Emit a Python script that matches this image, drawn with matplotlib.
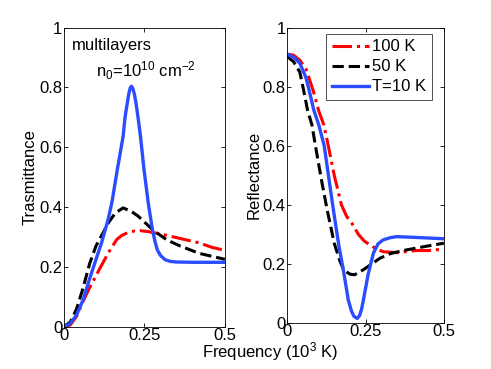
import numpy as np
import matplotlib
matplotlib.use("Agg")
import matplotlib.pyplot as plt

plt.rcParams['font.family'] = ['Liberation Sans', 'DejaVu Sans']
plt.rcParams['mathtext.fontset'] = 'custom'
plt.rcParams['mathtext.rm'] = 'Liberation Sans'
plt.rcParams['mathtext.it'] = 'Liberation Sans'

# Transmittance curves
t_blue_x = [0, 0.02, 0.04, 0.06, 0.08, 0.10, 0.117, 0.138, 0.15, 0.166, 0.184, 0.19, 0.197, 0.202,
            0.206, 0.210, 0.214, 0.219, 0.224, 0.231, 0.238, 0.249, 0.262, 0.275, 0.283, 0.29,
            0.30, 0.314, 0.33, 0.35, 0.40, 0.5]
t_blue_y = [0, 0.01, 0.04, 0.09, 0.16, 0.225, 0.28, 0.36, 0.42, 0.525, 0.636, 0.70, 0.748, 0.78,
            0.798, 0.804, 0.797, 0.778, 0.748, 0.695, 0.636, 0.525, 0.414, 0.324, 0.285, 0.257,
            0.238, 0.224, 0.218, 0.216, 0.215, 0.215]
t_black_x = [0, 0.02, 0.04, 0.06, 0.08, 0.10, 0.12, 0.14, 0.16, 0.184, 0.21, 0.23, 0.25, 0.28,
             0.32, 0.36, 0.42, 0.46, 0.5]
t_black_y = [0, 0.015, 0.06, 0.13, 0.21, 0.27, 0.31, 0.35, 0.38, 0.397, 0.385, 0.37, 0.35, 0.32,
             0.29, 0.27, 0.245, 0.235, 0.225]
t_red_x = [0, 0.02, 0.04, 0.06, 0.08, 0.10, 0.112, 0.14, 0.164, 0.18, 0.20, 0.22, 0.236, 0.26,
           0.30, 0.36, 0.42, 0.46, 0.5]
t_red_y = [0, 0.005, 0.035, 0.085, 0.13, 0.17, 0.195, 0.25, 0.291, 0.305, 0.315, 0.32, 0.321, 0.318,
           0.31, 0.295, 0.28, 0.265, 0.255]

# Reflectance curves
r_blue_x = [0, 0.02, 0.04, 0.06, 0.071, 0.085, 0.101, 0.118, 0.145, 0.152, 0.165, 0.179, 0.195,
            0.205, 0.213, 0.2235, 0.231, 0.237, 0.243, 0.259, 0.275, 0.29, 0.306, 0.33, 0.349, 0.40, 0.5]
r_blue_y = [0.91, 0.9, 0.88, 0.83, 0.783, 0.72, 0.67, 0.6, 0.4, 0.35, 0.26, 0.18, 0.077,
            0.04, 0.022, 0.015, 0.025, 0.045, 0.077, 0.168, 0.236, 0.268, 0.281, 0.289, 0.292, 0.29, 0.285]
r_black_x = [0, 0.02, 0.04, 0.052, 0.065, 0.079, 0.09, 0.11, 0.128, 0.15, 0.168, 0.18, 0.2,
             0.215, 0.243, 0.27, 0.296, 0.33, 0.37, 0.42, 0.5]
r_black_y = [0.902, 0.885, 0.85, 0.79, 0.72, 0.67, 0.6, 0.48, 0.38, 0.27, 0.21, 0.18, 0.165,
             0.163, 0.18, 0.2, 0.219, 0.235, 0.245, 0.255, 0.27]
r_red_x = [0, 0.02, 0.04, 0.06, 0.084, 0.10, 0.117, 0.131, 0.15, 0.173, 0.19, 0.206, 0.227, 0.245,
           0.264, 0.285, 0.307, 0.35, 0.41, 0.45, 0.5]
r_red_y = [0.91, 0.907, 0.89, 0.86, 0.783, 0.72, 0.67, 0.6, 0.5, 0.4, 0.36, 0.338, 0.3, 0.278,
           0.264, 0.25, 0.241, 0.238, 0.245, 0.245, 0.25]

fig = plt.figure(figsize=(4.91, 3.69), dpi=100)
ax1 = fig.add_axes([0.130, 0.115, 0.328, 0.810])
ax2 = fig.add_axes([0.585, 0.125, 0.319, 0.800])

blue = '#2b4cff'
ax1.plot(t_red_x, t_red_y, color='red', ls='-.', lw=2.2)
ax1.plot(t_black_x, t_black_y, color='black', ls='--', lw=2.2)
ax1.plot(t_blue_x, t_blue_y, color=blue, ls='-', lw=2.4)

ax2.plot(r_red_x, r_red_y, color='red', ls='-.', lw=2.2, label='100 K')
ax2.plot(r_black_x, r_black_y, color='black', ls='--', lw=2.2, label='50 K')
ax2.plot(r_blue_x, r_blue_y, color=blue, ls='-', lw=2.4, label='T=10 K')

for ax in (ax1, ax2):
    ax.set_xlim(0, 0.5)
    ax.set_ylim(0, 1)
    ax.set_xticks([0, 0.25, 0.5])
    ax.set_xticklabels(['0', '0.25', '0.5'])
    ax.set_yticks([0, 0.2, 0.4, 0.6, 0.8, 1])
    ax.set_yticklabels(['0', '0.2', '0.4', '0.6', '0.8', '1'])
    ax.tick_params(direction='in', top=True, right=True, labelsize=12, length=3, width=0.6, pad=1)
    for s in ax.spines.values():
        s.set_linewidth(0.6)

ax1.set_ylabel('Trasmittance', fontsize=12, labelpad=1)
ax2.set_ylabel('Reflectance', fontsize=12, labelpad=1)

ax1.text(0.05, 0.94, 'multilayers', transform=ax1.transAxes, fontsize=12, va='center')
ax1.text(0.20, 0.855, r'n$_0$=10$^{10}$ cm$^{-2}$', transform=ax1.transAxes, fontsize=12, va='center')

leg = ax2.legend(loc='upper right', fontsize=12, handlelength=2.2, handletextpad=0.2,
                 borderpad=0.35, labelspacing=0.3, fancybox=False, edgecolor='black',
                 borderaxespad=0, bbox_to_anchor=(0.925, 0.98))
leg.get_frame().set_linewidth(0.6)

fig.text(0.55, 0.048, r'Frequency (10$^3$ K)', fontsize=12, ha='center', va='center')

fig.savefig('out.png', dpi=100)
